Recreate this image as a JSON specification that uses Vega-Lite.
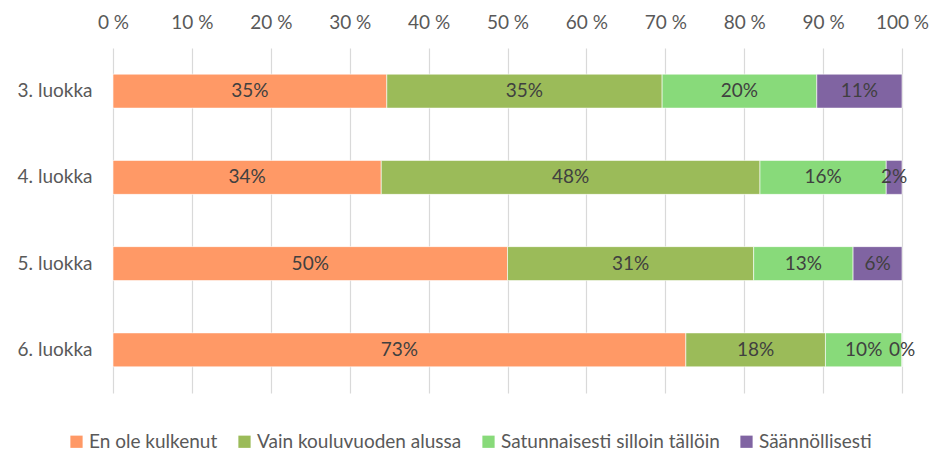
{
  "$schema": "https://vega.github.io/schema/vega-lite/v6.json",
  "width": 789,
  "height": 345,
  "autosize": "none",
  "padding": {"left": 113, "top": 48, "right": 43, "bottom": 60},
  "background": "white",
  "config": {
    "font": "Lato",
    "view": {"stroke": null},
    "axis": {"labelFont": "Lato", "labelColor": "#595959", "labelFontSize": 19}
  },
  "data": {
    "values": [
      {"luokka": "3. luokka", "vastaus": "En ole kulkenut", "o": 1, "osuus": 0.347},
      {"luokka": "3. luokka", "vastaus": "Vain kouluvuoden alussa", "o": 2, "osuus": 0.349},
      {"luokka": "3. luokka", "vastaus": "Satunnaisesti silloin tällöin", "o": 3, "osuus": 0.196},
      {"luokka": "3. luokka", "vastaus": "Säännöllisesti", "o": 4, "osuus": 0.108},
      {"luokka": "4. luokka", "vastaus": "En ole kulkenut", "o": 1, "osuus": 0.34},
      {"luokka": "4. luokka", "vastaus": "Vain kouluvuoden alussa", "o": 2, "osuus": 0.48},
      {"luokka": "4. luokka", "vastaus": "Satunnaisesti silloin tällöin", "o": 3, "osuus": 0.16},
      {"luokka": "4. luokka", "vastaus": "Säännöllisesti", "o": 4, "osuus": 0.02},
      {"luokka": "5. luokka", "vastaus": "En ole kulkenut", "o": 1, "osuus": 0.5},
      {"luokka": "5. luokka", "vastaus": "Vain kouluvuoden alussa", "o": 2, "osuus": 0.312},
      {"luokka": "5. luokka", "vastaus": "Satunnaisesti silloin tällöin", "o": 3, "osuus": 0.126},
      {"luokka": "5. luokka", "vastaus": "Säännöllisesti", "o": 4, "osuus": 0.062},
      {"luokka": "6. luokka", "vastaus": "En ole kulkenut", "o": 1, "osuus": 0.726},
      {"luokka": "6. luokka", "vastaus": "Vain kouluvuoden alussa", "o": 2, "osuus": 0.177},
      {"luokka": "6. luokka", "vastaus": "Satunnaisesti silloin tällöin", "o": 3, "osuus": 0.097},
      {"luokka": "6. luokka", "vastaus": "Säännöllisesti", "o": 4, "osuus": 0.0}
    ]
  },
  "transform": [
    {"stack": "osuus", "groupby": ["luokka"], "sort": [{"field": "o", "order": "ascending"}], "as": ["x0", "x1"]},
    {"calculate": "(datum.x0 + datum.x1) / 2", "as": "mid"}
  ],
  "encoding": {
    "y": {
      "field": "luokka",
      "type": "nominal",
      "title": null,
      "scale": {"paddingInner": 0.606, "paddingOuter": 0.303},
      "axis": {"domain": false, "ticks": false, "labelPadding": 21}
    }
  },
  "layer": [
    {
      "mark": {"type": "bar", "stroke": "white", "strokeWidth": 0.6},
      "encoding": {
        "x": {
          "field": "x0",
          "type": "quantitative",
          "title": null,
          "scale": {"domain": [0, 1], "nice": false},
          "axis": {
            "orient": "top",
            "values": [0, 0.1, 0.2, 0.3, 0.4, 0.5, 0.6, 0.7, 0.8, 0.9, 1],
            "labelExpr": "round(datum.value * 100) + ' %'",
            "labelFlush": false,
            "labelOverlap": false,
            "labelBound": false,
            "domain": false,
            "ticks": false,
            "labelPadding": 16,
            "grid": true,
            "gridColor": "#D9D9D9",
            "gridWidth": 1.2
          }
        },
        "x2": {"field": "x1"},
        "color": {
          "field": "vastaus",
          "type": "nominal",
          "scale": {
            "domain": ["En ole kulkenut", "Vain kouluvuoden alussa", "Satunnaisesti silloin tällöin", "Säännöllisesti"],
            "range": ["#FF9966", "#9BBB59", "#88DA7A", "#8064A2"]
          },
          "legend": {
            "title": null,
            "orient": "none",
            "direction": "horizontal",
            "legendX": -46,
            "legendY": 384,
            "symbolType": "square",
            "symbolSize": 150,
            "symbolStrokeWidth": 0,
            "labelFont": "Lato",
            "labelFontSize": 19,
            "labelColor": "#595959",
            "labelLimit": 0,
            "columnPadding": 17,
            "labelOffset": 3
          }
        },
        "order": {"field": "o"}
      }
    },
    {
      "mark": {"type": "text", "font": "Lato", "fontSize": 19, "color": "#404040", "align": "center", "baseline": "middle"},
      "encoding": {
        "x": {"field": "mid", "type": "quantitative"},
        "text": {"field": "osuus", "type": "quantitative", "format": ".0%"}
      }
    }
  ]
}
